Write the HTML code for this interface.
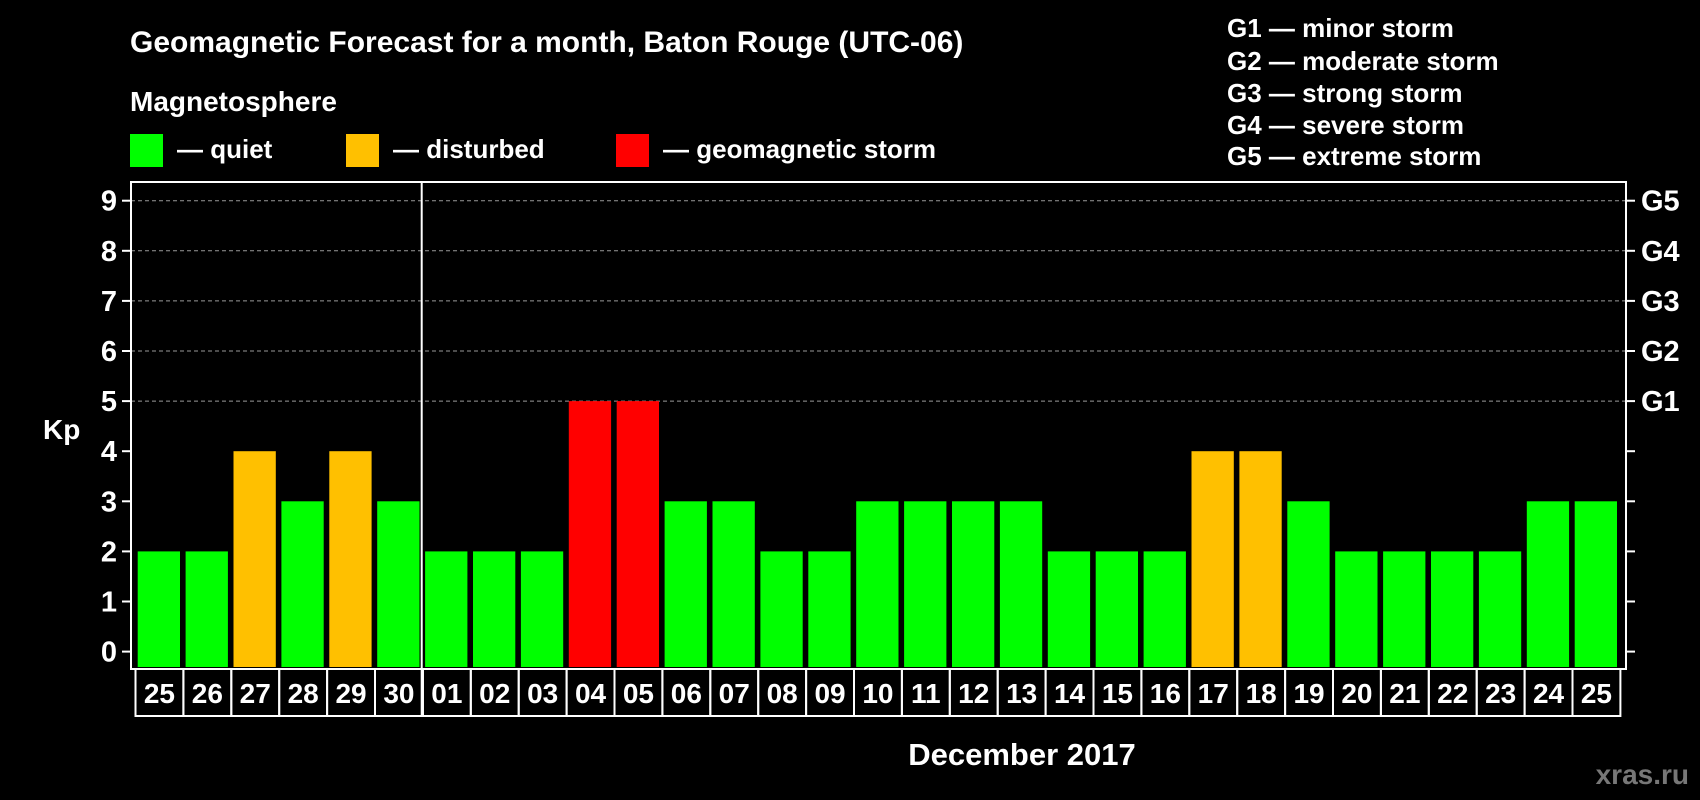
<!DOCTYPE html>
<html><head><meta charset="utf-8"><style>
html,body{margin:0;padding:0;background:#000;}
svg{display:block;font-family:"Liberation Sans",Arial,sans-serif;font-weight:bold;}
</style></head><body>
<svg width="1700" height="800" viewBox="0 0 1700 800">
<text x="130" y="52" fill="#fff" font-size="30">Geomagnetic Forecast for a month, Baton Rouge (UTC-06)</text>
<text x="130" y="111" fill="#fff" font-size="28">Magnetosphere</text>
<rect x="130" y="134" width="33" height="33" fill="#00ff00"/>
<text x="177" y="158" fill="#fff" font-size="26">— quiet</text>
<rect x="346" y="134" width="33" height="33" fill="#ffc000"/>
<text x="393" y="158" fill="#fff" font-size="26">— disturbed</text>
<rect x="616" y="134" width="33" height="33" fill="#ff0000"/>
<text x="663" y="158" fill="#fff" font-size="26">— geomagnetic storm</text>
<g fill="#fff" font-size="26">
<text x="1227" y="37">G1 — minor storm</text>
<text x="1227" y="70">G2 — moderate storm</text>
<text x="1227" y="102">G3 — strong storm</text>
<text x="1227" y="134">G4 — severe storm</text>
<text x="1227" y="165">G5 — extreme storm</text>
</g>
<g id="plot"></g>
<text x="43" y="439" fill="#fff" font-size="28">Kp</text>
<text x="1022" y="765" fill="#fff" font-size="31" text-anchor="middle">December 2017</text>
<text x="1689" y="784" fill="#777" font-size="28" text-anchor="end">xras.ru</text>
</svg>
<script>
const days=["25","26","27","28","29","30","01","02","03","04","05","06","07","08","09","10","11","12","13","14","15","16","17","18","19","20","21","22","23","24","25"];
const kp=[2,2,4,3,4,3,2,2,2,5,5,3,3,2,2,3,3,3,3,2,2,2,4,4,3,2,2,2,2,3,3];
const yTicks=[0,1,2,3,4,5,6,7,8,9];
const gLabels=["G1","G2","G3","G4","G5"];
const NS="http://www.w3.org/2000/svg";
const g=document.getElementById('plot');
const L=131,R=1626,T=182,B=669,CB=716,y0=651.6,unit=50.1,pitch=47.9;
const y=v=>y0-v*unit;
const x=i=>137.7+i*pitch;
function mk(t,a){const e=document.createElementNS(NS,t);for(const k in a)e.setAttribute(k,a[k]);g.appendChild(e);return e;}
yTicks.forEach(v=>{
 if(v>=5){const l=mk('line',{x1:L,x2:R,y1:y(v),y2:y(v),stroke:'#999','stroke-dasharray':'4,3','stroke-width':1});
 
 }
 const t=mk('line',{x1:L-9,x2:L,y1:y(v),y2:y(v),stroke:'#fff','stroke-width':2});
 
 
 const t2=mk('line',{x1:R,x2:R+9,y1:y(v),y2:y(v),stroke:'#fff','stroke-width':2});
 
 
 const tx=mk('text',{x:L-14,y:y(v)+10,fill:'#fff','font-size':29,'text-anchor':'end'});
 tx.textContent=v;
 
 
});
gLabels.forEach((s,i)=>{
 const tx=mk('text',{x:R+15,y:y(5+i)+10,fill:'#fff','font-size':29});
 tx.textContent=s;
 
 
});
kp.forEach((v,i)=>{
 const c=v>=5?'#ff0000':v>=4?'#ffc000':'#00ff00';
 const r=mk('rect',{x:x(i),y:y(v),width:42.3,height:B-2-y(v),fill:c});
 
 
 const cell=mk('rect',{x:135.5+i*pitch,y:B,width:pitch,height:CB-B,fill:'none',stroke:'#fff','stroke-width':2});
 
 
 const tx=mk('text',{x:135.5+i*pitch+pitch/2,y:B+34,fill:'#fff','font-size':28,'text-anchor':'middle'});
 tx.textContent=days[i];
 
 
});
const fr=mk('rect',{x:L,y:T,width:R-L,height:B-T,fill:'none',stroke:'#fff','stroke-width':2});


const dv=mk('line',{x1:421.7,x2:421.7,y1:T,y2:CB,stroke:'#fff','stroke-width':2});


</script>
</body></html>
